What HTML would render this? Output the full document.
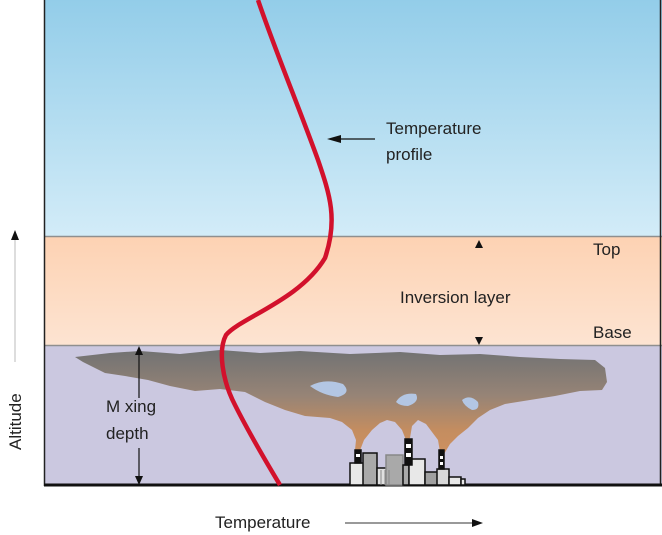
<!DOCTYPE html>
<html><head><style>
html,body{margin:0;padding:0;background:#fff;}
svg{display:block;font-family:"Liberation Sans",sans-serif;}
</style></head><body>
<svg width="662" height="535" viewBox="0 0 662 535" xmlns="http://www.w3.org/2000/svg">
<defs>
<linearGradient id="sky" x1="0" y1="0" x2="0" y2="1"><stop offset="0" stop-color="#93cde9"/><stop offset="1" stop-color="#d3ecf8"/></linearGradient>
<linearGradient id="inv" x1="0" y1="0" x2="0" y2="1"><stop offset="0" stop-color="#fdd2b3"/><stop offset="1" stop-color="#fde4d2"/></linearGradient>
<linearGradient id="smoke" gradientUnits="userSpaceOnUse" x1="0" y1="352" x2="0" y2="450"><stop offset="0" stop-color="#737373"/><stop offset="0.45" stop-color="#978476"/><stop offset="0.8" stop-color="#c48d60"/><stop offset="1" stop-color="#cc9060"/></linearGradient>
</defs>
<rect x="44" y="0" width="618" height="237" fill="url(#sky)"/>
<rect x="44" y="237" width="618" height="109" fill="url(#inv)"/>
<rect x="44" y="346" width="618" height="140" fill="#cbc8e0"/>
<line x1="44" y1="236.5" x2="662" y2="236.5" stroke="#8f8f8f" stroke-width="1.5"/>
<line x1="44" y1="345.5" x2="662" y2="345.5" stroke="#8f8f8f" stroke-width="1.5"/>
<line x1="44.5" y1="0" x2="44.5" y2="486" stroke="#222" stroke-width="1.5"/>
<line x1="660.5" y1="0" x2="660.5" y2="486" stroke="#222" stroke-width="1.5"/>
<line x1="44" y1="485" x2="662" y2="485" stroke="#111" stroke-width="3"/>
<!-- smoke -->
<path fill="url(#smoke)" d="M75,357 L110,353 L140,351 L180,354 L220,350 L260,353 L300,351 L350,354 L400,352 L440,355 L480,354 L520,357 L560,359 L595,360 L605,368 L607,382 L602,390 L580,391 L555,396 L530,400 L505,404 L490,410 L478,418 L468,428 L458,436 L450,444 L444,454 L440,452 L438,440 L432,432 L426,424 L418,420 L412,426 L410,438 L406,440 L402,430 L395,422 L387,420 L380,423 L372,430 L364,440 L359,453 L355,450 L356,440 L352,430 L342,422 L330,418 L305,416 L285,410 L265,402 L245,392 L220,389 L195,391 L170,386 L148,380 L125,376 L105,373 L95,368 L83,362 Z"/>
<path fill="#b3c6e3" d="M310,386 Q325,378 343,384 Q352,393 338,397 Q322,395 310,386Z"/>
<path fill="#b3c6e3" d="M396,402 Q402,392 416,394 Q420,402 408,406 Q400,406 396,402Z"/>
<path fill="#b3c6e3" d="M462,400 Q470,394 478,402 Q480,410 472,410 Q464,406 462,400Z"/>
<!-- factory -->
<g stroke="#111" stroke-width="1.5">
<rect x="350" y="463" width="19" height="22" fill="#e8e8e8"/>
<rect x="363" y="453" width="14" height="32" fill="#a9a9a9"/>
<rect x="377" y="468" width="15" height="17" fill="#e0e0e0"/>
<rect x="386" y="455" width="17" height="30" fill="#a9a9a9" stroke="#888"/>
<rect x="403" y="465" width="6" height="20" fill="#a9a9a9"/>
<rect x="409" y="459" width="16" height="26" fill="#e8e8e8"/>
<rect x="425" y="472" width="13" height="13" fill="#a0a0a0"/>
<rect x="437" y="469" width="12" height="16" fill="#d8d8d8"/>
<rect x="449" y="477" width="12" height="8" fill="#e8e8e8"/>
<rect x="461" y="479" width="4" height="6" fill="#e8e8e8"/>
<rect x="355" y="450" width="6" height="13" fill="#111"/>
<rect x="405" y="439" width="7" height="26" fill="#111"/>
<rect x="439" y="450" width="5" height="19" fill="#111"/>
</g>
<g fill="#fff"><rect x="356" y="454" width="4" height="3"/><rect x="406" y="444" width="5" height="4"/><rect x="406" y="453" width="5" height="4"/><rect x="440" y="456" width="3" height="3"/><rect x="440" y="462" width="3" height="3"/></g>
<g stroke="#888" stroke-width="1"><line x1="381" y1="470" x2="381" y2="485"/><line x1="385" y1="470" x2="385" y2="485"/><line x1="389" y1="470" x2="389" y2="485"/></g>
<!-- red curve -->
<path d="M258,0 C275,50 300,110 318,160 C330,195 338,220 325,258 C300,300 240,318 226,335 C218,350 222,380 235,405 C250,435 268,465 280,485" fill="none" stroke="#d2112c" stroke-width="4.5"/>
<!-- temperature profile arrow -->
<line x1="340" y1="139" x2="375" y2="139" stroke="#111" stroke-width="1.2"/>
<path d="M327,139 L341,135 L341,143Z" fill="#111"/>
<text x="386" y="134" font-size="17" fill="#222">Temperature</text>
<text x="386" y="160" font-size="17" fill="#222">profile</text>
<!-- inversion markers -->
<path d="M479,240 L475,248 L483,248Z" fill="#111"/>
<path d="M479,345 L475,337 L483,337Z" fill="#111"/>
<text x="400" y="303" font-size="17" fill="#222">Inversion layer</text>
<text x="593" y="255" font-size="17" fill="#222">Top</text>
<text x="593" y="338" font-size="17" fill="#222">Base</text>
<!-- mixing depth -->
<line x1="139" y1="352" x2="139" y2="398" stroke="#111" stroke-width="1.2"/>
<line x1="139" y1="448" x2="139" y2="480" stroke="#111" stroke-width="1.2"/>
<path d="M139,346 L135,355 L143,355Z" fill="#111"/>
<path d="M139,485 L135,476 L143,476Z" fill="#111"/>
<text x="106" y="412" font-size="17" fill="#222">M xing</text>
<text x="106" y="439" font-size="17" fill="#222">depth</text>
<!-- axes labels -->
<line x1="15" y1="240" x2="15" y2="362" stroke="#bbb" stroke-width="1"/>
<path d="M15,230 L11,240 L19,240Z" fill="#111"/>
<text transform="translate(21,450) rotate(-90)" font-size="17" fill="#222">Altitude</text>
<text x="215" y="528" font-size="17" fill="#222">Temperature</text>
<line x1="345" y1="523" x2="474" y2="523" stroke="#333" stroke-width="1"/>
<path d="M483,523 L472,519 L472,527Z" fill="#111"/>
</svg>
</body></html>
